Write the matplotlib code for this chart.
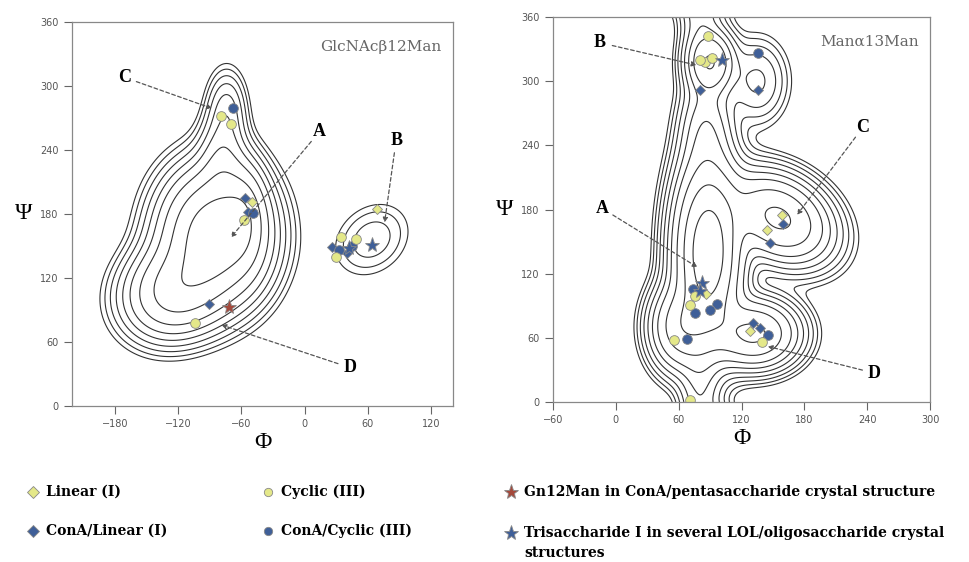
import numpy as np
import matplotlib
matplotlib.use("Agg")
import matplotlib.pyplot as plt
from matplotlib.lines import Line2D

# ---- energy basins (centre phi, centre psi, sigma phi, sigma psi, tilt deg, weight)
left_cx = [-85, -122, -57, -78, -74, 64]
left_cy = [160, 108, 178, 228, 278, 156]
left_sx = [28, 28, 12, 13, 11, 24]
left_sy = [34, 24, 28, 26, 22, 19]
left_ang = [0, 25, 0, 0, 0, 40]
left_w = [1.0, 0.5, 0.3, 0.18, 0.10, 0.05]
left_levels = [0.35, 0.9, 1.45, 1.95, 2.4, 2.85, 3.3, 3.75, 4.2]

right_cx = [88, 155, 132, 90, 80, 135, 62, 86]
right_cy = [140, 172, 64, 318, 15, 300, 70, 255]
right_sx = [17, 28, 22, 13, 11, 16, 16, 14]
right_sy = [45, 20, 17, 17, 30, 22, 22, 28]
right_ang = [0, -30, 0, 0, 0, 0, 0, 0]
right_w = [1.0, 0.45, 0.45, 0.22, 0.06, 0.05, 0.3, 0.1]
right_levels = [0.35, 0.9, 1.5, 2.1, 2.6, 3.1, 3.6, 4.1, 4.6, 5.1]

# ---- markers, left panel (GlcNAcb12Man)
L_lin = [(-50, 191), (69, 185)]
L_cyc = [(-79, 272), (-70, 264), (-58, 174), (-104, 78), (35, 158), (49, 157), (30, 140)]
L_conA_lin = [(-91, 96), (-57, 195), (-54, 182), (26, 149), (40, 143)]
L_conA_cyc = [(-68, 279), (-49, 181), (45, 150), (33, 146)]
L_red_star = [(-72, 93)]
L_blue_star = [(64, 151), (42, 148)]

# ---- markers, right panel (Mana13Man)
R_lin = [(159, 175), (144, 161), (86, 101), (128, 66)]
R_cyc = [(88, 342), (85, 318), (92, 322), (80, 320), (76, 99), (71, 91), (56, 58), (71, 2), (140, 56)]
R_conA_lin = [(80, 292), (136, 292), (147, 149), (160, 166), (131, 74), (138, 69)]
R_conA_cyc = [(136, 326), (74, 106), (97, 92), (76, 83), (90, 86), (68, 59), (145, 63)]
R_blue_star = [(101, 320), (82, 111), (80, 104)]

# labels: (text, label pos, arrow tip)
L_notes = [("C", (-171, 308), (-88, 279)), ("A", (14, 257), (-70, 158)),
           ("B", (87, 249), (76, 172)), ("D", (43, 36), (-79, 76))]
R_notes = [("B", (-15, 336), (77, 315)), ("C", (236, 257), (173, 175)),
           ("A", (-13, 181), (78, 126)), ("D", (247, 27), (145, 52))]

yellow = "#e4e889"
blue = "#3f5f98"
red = "#a4493c"


def energy(X, Y, cx, cy, sx, sy, ang, w):
    tot = np.zeros_like(X)
    for i in range(len(cx)):
        a = np.radians(ang[i])
        for sh in (-360, 0, 360):
            dx = X - cx[i]
            dy = Y - cy[i] - sh
            u = dx * np.cos(a) + dy * np.sin(a)
            v = -dx * np.sin(a) + dy * np.cos(a)
            tot += w[i] * np.exp(-0.5 * ((u / sx[i]) ** 2 + (v / sy[i]) ** 2))
    return -np.log(tot + 1e-12)


def draw(ax, xlim, xticks, wells, levels, lin, cyc, clin, ccyc, rstar, bstar, notes, title):
    x = np.linspace(xlim[0], xlim[1], 500)
    y = np.linspace(0, 360, 500)
    X, Y = np.meshgrid(x, y)
    E = energy(X, Y, *wells)
    ax.contour(X, Y, E, levels=levels, colors="#333333", linewidths=0.8)

    for name, pos, tip in notes:
        ax.annotate("", xy=tip, xytext=pos,
                    arrowprops=dict(arrowstyle="-|>", ls=(0, (3, 2)), color="#555555",
                                    lw=0.9, mutation_scale=7, shrinkA=9, shrinkB=0))
        ax.text(pos[0], pos[1], name, fontsize=13, fontweight="bold",
                family="Liberation Serif", ha="center", va="center")

    ms = 7
    def pts(lst, **kw):
        if lst:
            xs, ys = zip(*lst)
            ax.plot(xs, ys, ls="none", markeredgecolor="#888888", markeredgewidth=0.6, **kw)
    pts(clin, marker="D", color=blue, ms=ms - 1.5)
    pts(ccyc, marker="o", color=blue, ms=ms)
    pts(lin, marker="D", color=yellow, ms=ms - 1.5)
    pts(cyc, marker="o", color=yellow, ms=ms)
    pts(rstar, marker="*", color=red, ms=ms + 4)
    pts(bstar, marker="*", color=blue, ms=ms + 4)

    ax.set_xlim(*xlim)
    ax.set_ylim(0, 360)
    ax.set_xticks(xticks)
    ax.set_yticks([0, 60, 120, 180, 240, 300, 360])
    ax.tick_params(direction="out", length=6, width=0.8, colors="#666666",
                   labelsize=7, labelcolor="#555555")
    for s in ax.spines.values():
        s.set_color("#888888")
        s.set_linewidth(0.9)
    ax.set_xlabel("\u03a6", fontsize=17, family="Liberation Serif", labelpad=2)
    ax.set_ylabel("\u03a8", fontsize=17, family="Liberation Serif", rotation=0,
                  labelpad=12, va="center")
    ax.text(0.97, 0.935, title, transform=ax.transAxes, ha="right", va="center",
            fontsize=11, family="DejaVu Serif", color="#666666")


fig = plt.figure(figsize=(9.7, 5.62), dpi=100)
ax1 = fig.add_axes([0.0742, 0.2776, 0.3928, 0.6833])
ax2 = fig.add_axes([0.5701, 0.2847, 0.3887, 0.6850])

draw(ax1, (-221, 141), [-180, -120, -60, 0, 60, 120],
     (left_cx, left_cy, left_sx, left_sy, left_ang, left_w), left_levels,
     L_lin, L_cyc, L_conA_lin, L_conA_cyc, L_red_star, L_blue_star, L_notes,
     "GlcNAc\u03b212Man")
draw(ax2, (-60, 300), [-60, 0, 60, 120, 180, 240, 300],
     (right_cx, right_cy, right_sx, right_sy, right_ang, right_w), right_levels,
     R_lin, R_cyc, R_conA_lin, R_conA_cyc, [], R_blue_star, R_notes,
     "Man\u03b113Man")

# ---- legend
leg_items = [
    (33, 492, "D", yellow, 6, "Linear (I)"),
    (33, 531, "D", blue, 6, "ConA/Linear (I)"),
    (268, 492, "o", yellow, 6, "Cyclic (III)"),
    (268, 531, "o", blue, 6, "ConA/Cyclic (III)"),
    (511, 492, "*", red, 11, "Gn12Man in ConA/pentasaccharide crystal structure"),
    (511, 533, "*", blue, 11, "Trisaccharide I in several LOL/oligosaccharide crystal"),
    (511, 553, "", blue, 0, "structures"),
]
W, H = 970, 562
for px, py, mk, col, sz, txt in leg_items:
    if mk:
        fig.add_artist(Line2D([px / W], [1 - py / H], marker=mk, color=col, ms=sz,
                              markeredgecolor="#888888", markeredgewidth=0.6,
                              transform=fig.transFigure))
    fig.text((px + 13) / W, 1 - py / H, txt, fontsize=10, fontweight="bold",
             family="DejaVu Serif", va="center")

fig.savefig("out.png", dpi=100)
